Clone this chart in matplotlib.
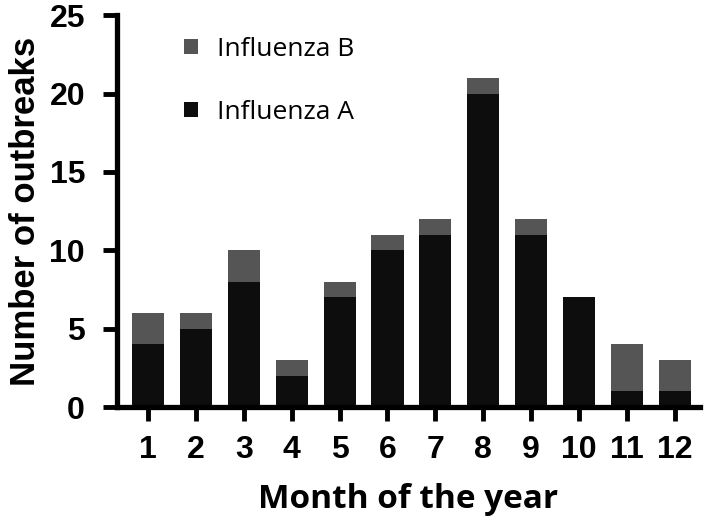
import matplotlib.pyplot as plt
import numpy as np

months = [1, 2, 3, 4, 5, 6, 7, 8, 9, 10, 11, 12]
flu_a = [4, 5, 8, 2, 7, 10, 11, 20, 11, 7, 1, 1]
flu_b = [2, 1, 2, 1, 1, 1, 1, 1, 1, 0, 3, 2]

fig = plt.figure(figsize=(7.09, 5.22), dpi=100)
ax = fig.add_axes([0.165, 0.22, 0.822, 0.751])

ba = ax.bar(months, flu_a, width=0.67, color='#0d0d0d', label='Influenza A')
bb = ax.bar(months, flu_b, width=0.67, bottom=flu_a, color='#555555', label='Influenza B')

ax.set_xlim(0.353, 12.52)
ax.set_ylim(0, 25)
ax.set_yticks([0, 5, 10, 15, 20, 25])
ax.set_xticks(months)

for s in ['top', 'right']:
    ax.spines[s].set_visible(False)
for s in ['left', 'bottom']:
    ax.spines[s].set_linewidth(3.8)
ax.tick_params(width=3.5, length=10, direction='out')
for lab in ax.get_xticklabels() + ax.get_yticklabels():
    lab.set_fontfamily('Liberation Sans')
    lab.set_fontweight('bold')
    lab.set_fontsize(23)
ax.tick_params(axis='x', pad=10)
ax.tick_params(axis='y', pad=13)

ax.set_ylabel('Number of outbreaks', fontsize=25, fontweight='bold',
              family='Liberation Sans', labelpad=5)
ax.set_xlabel('Month of the year', fontsize=24, fontweight='bold',
              family='Open Sans', labelpad=13)

leg = ax.legend([bb, ba], ['Influenza B', 'Influenza A'], loc='upper left',
                bbox_to_anchor=(0.075, 1.006), frameon=False,
                prop={'family': 'Open Sans', 'size': 19},
                handlelength=0.5, handleheight=0.5, labelspacing=1.45,
                handletextpad=0.75)

fig.savefig('out.png', dpi=100)
